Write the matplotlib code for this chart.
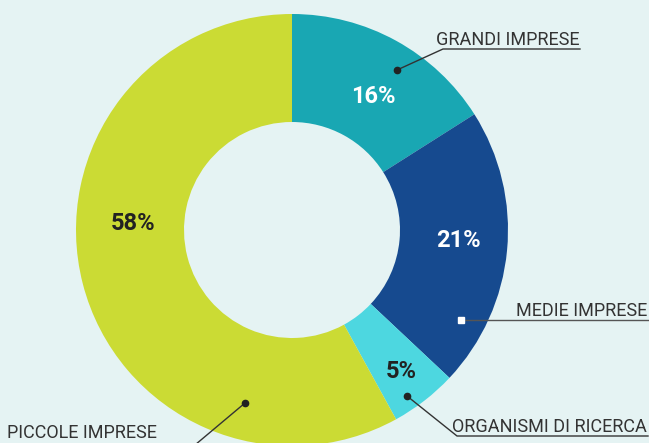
import matplotlib
matplotlib.use("Agg")
import matplotlib.pyplot as plt

categories = ["GRANDI IMPRESE", "MEDIE IMPRESE", "ORGANISMI DI RICERCA", "PICCOLE IMPRESE"]
values = [16, 21, 5, 58]
pct_labels = ["16%", "21%", "5%", "58%"]
colors = ["#19a7b3", "#164a8f", "#4dd7e0", "#cbdb34"]
pct_colors = ["white", "white", "#222222", "#222222"]

W, H = 649, 443
bg = "#e5f3f3"
plt.rcParams['font.family'] = ['Liberation Sans Narrow', 'Roboto', 'DejaVu Sans']

fig = plt.figure(figsize=(W / 100, H / 100), dpi=100, facecolor=bg)
ax = fig.add_axes([0, 0, 1, 1])
ax.set_facecolor(bg)

def Y(y):
    return H - y

cx, cy, R, w = 292, 230, 216, 108
ax.pie(values, colors=colors, startangle=90, counterclock=False,
       center=(cx, Y(cy)), radius=R, frame=True,
       wedgeprops=dict(width=w, linewidth=0))
ax.set_xlim(0, W)
ax.set_ylim(0, H)
ax.axis("off")

# percentage labels
pct_pos = [(373, 96), (458, 240), (401, 372), (133, 223)]
for (x, y), t, c in zip(pct_pos, pct_labels, pct_colors):
    ax.text(x, Y(y), t, color=c, fontsize=17, fontweight="bold",
            ha="center", va="center", family=['Roboto', 'DejaVu Sans'])

lc = "#333333"
tc = "#333333"
fs = 13
# Grandi imprese
ax.plot([397, 443, 580], [Y(70), Y(49), Y(49)], color=lc, lw=1)
ax.plot([397], [Y(70)], marker="o", ms=4.5, color="#222222")
ax.text(580, Y(45), categories[0], ha="right", va="baseline", fontsize=fs, color=tc)
# Medie imprese
ax.plot([461, 648], [Y(320), Y(320)], color="#555555", lw=1)
ax.plot([461], [Y(320)], marker="s", ms=4, color="white")
ax.text(647, Y(316), categories[1], ha="right", va="baseline", fontsize=fs, color=tc)
# Organismi di ricerca
ax.plot([407, 457, 648], [Y(396), Y(436), Y(436)], color=lc, lw=1)
ax.plot([407], [Y(396)], marker="o", ms=4.5, color="#222222")
ax.text(647, Y(432), categories[2], ha="right", va="baseline", fontsize=fs, color=tc)
# Piccole imprese
ax.plot([245, 189], [Y(403), Y(450)], color=lc, lw=1)
ax.plot([245], [Y(403)], marker="o", ms=4.5, color="#222222")
ax.text(7, Y(438), categories[3], ha="left", va="baseline", fontsize=fs, color=tc)

fig.savefig("out.png", dpi=100, facecolor=bg)
